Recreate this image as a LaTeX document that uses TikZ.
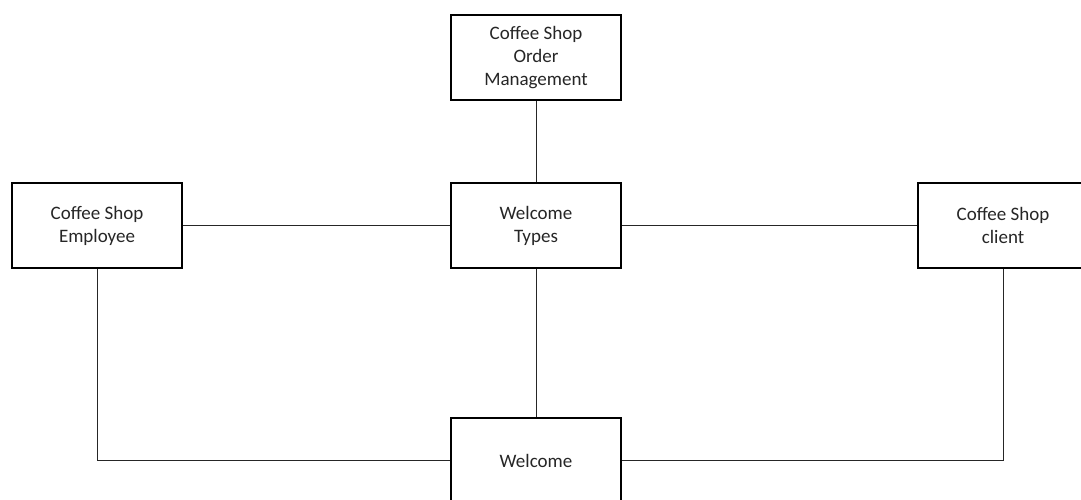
\documentclass[tikz,border=0pt]{standalone}
\usepackage{fontspec}
\setmainfont{Carlito}
\usetikzlibrary{positioning}

\tikzstyle{block_node} = [rectangle, draw=black, line width=1.6pt, fill=white, text=black!85, align=center, text centered, minimum width=170pt, minimum height=85pt, inner sep=0pt, font=\fontsize{19}{23}\selectfont]
\tikzstyle{link} = [line width=1pt, draw=black!85]

\begin{document}
\begin{tikzpicture}[x=1pt, y=-1pt]
    \useasboundingbox (0,0) rectangle (1081,500);
    \clip (0,0) rectangle (1081,500);

    \node (types)  [block_node] at (536,225.5) {Welcome\\Types};
    \node (order)  [block_node] at (536,57.5)  {Coffee Shop\\Order\\Management};
    \node (emp)    [block_node] at (97,225.5)  {Coffee Shop\\Employee};
    \node (client) [block_node] at (1003,225.5) {Coffee Shop\\client};
    \node (welcome)[block_node] at (536,460.5) {Welcome};

    \draw [link] (order) -- (types);
    \draw [link] (emp) -- (types);
    \draw [link] (types) -- (client);
    \draw [link] (types) -- (welcome);
    \draw [link] (emp.south) |- (welcome.west);
    \draw [link] (client.south) |- (welcome.east);
\end{tikzpicture}
\end{document}
